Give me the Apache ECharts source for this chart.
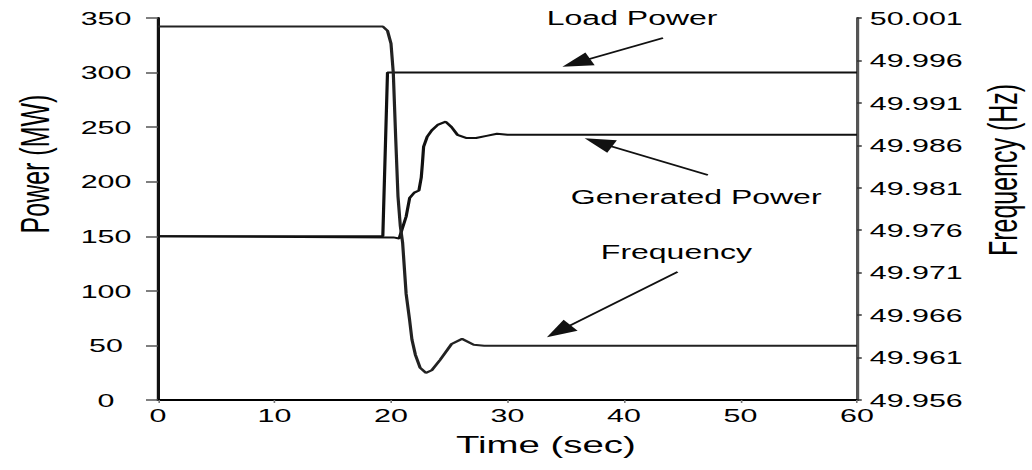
<!DOCTYPE html>
<html>
<head>
<meta charset="utf-8">
<script src="https://cdn.jsdelivr.net/npm/echarts@6/dist/echarts.min.js"></script>
<style>
  html, body { margin: 0; padding: 0; background: #fff; }
  #wrap { width: 1032px; height: 470px; overflow: hidden; position: relative; }
  /* the source picture is stretched horizontally; draw at 645px and stretch by 1.6 */
  #main { width: 645px; height: 470px; transform: scaleX(1.6); transform-origin: 0 0; }
</style>
</head>
<body>
<div id="wrap"><div id="main"></div></div>
<script>
// ---- data (time in s, power in MW, frequency in Hz) ----
const timeRange = [0, 60];
const timeStep = 10;
const powerRange = [0, 350];
const powerStep = 50;
const freqRange = [49.956, 50.001];
const freqStep = 0.005;

const loadPower = [[0, 150], [19.3, 150], [19.7, 300], [60, 300]];

const generatedPower = [
  [0, 150], [20.2, 149], [20.7, 148], [21.3, 168], [21.6, 185], [22.0, 190],
  [22.4, 192], [22.6, 204], [22.7, 217], [22.8, 232], [23.1, 241], [23.5, 247],
  [24.0, 252], [24.7, 255], [25.2, 250], [25.7, 243], [26.5, 240], [27.3, 240],
  [28.2, 242], [29.1, 244], [30, 243], [60, 243]
];

const frequency = [
  [0, 50.000], [19.3, 50.000], [19.7, 49.9995], [20.0, 49.998], [20.2, 49.9945],
  [20.4, 49.987], [20.6, 49.980], [20.8, 49.9765], [21.0, 49.9745], [21.3, 49.9685],
  [21.6, 49.9654], [21.8, 49.9631], [22.1, 49.9613], [22.5, 49.9598], [23.0, 49.9592],
  [23.5, 49.9595], [24.2, 49.9607], [25.2, 49.9626], [26.1, 49.9632], [27.1, 49.9625],
  [28.0, 49.9624], [60, 49.9624]
];

const seriesNames = ['Load Power', 'Generated Power', 'Frequency'];

// ---- annotations (anchored in data space) ----
const annoText = [
  { name: 'Load Power', coord: [40.7, 350] },
  { name: 'Generated Power', coord: [46.2, 186] },
  { name: 'Frequency', coord: [44.5, 135.6] }
];
const loadArrow = [[43.35, 331.7], [35.9, 309.0]];
const genArrow = [[47.2, 206.1], [37.8, 236.0]];
const freqArrow = [[44.6, 49.9711], [34.4, 49.9641]];

const FONT = '"Liberation Sans", Arial, sans-serif';
const chart = echarts.init(document.getElementById('main'), null, { renderer: 'svg' });

const arrowStyle = {
  silent: true,
  symbol: ['none', 'triangle'],
  symbolSize: [14, 19],
  lineStyle: { color: '#111', width: 1.6, type: 'solid' },
  itemStyle: { color: '#000' },
  label: { show: false },
  emphasis: { disabled: true }
};

const option = {
  animation: false,
  textStyle: { fontFamily: FONT, color: '#000' },
  grid: { left: 98.75, right: 109.4, top: 18, bottom: 70, containLabel: false, outerBoundsMode: 'none' },
  xAxis: {
    type: 'value', min: timeRange[0], max: timeRange[1], interval: timeStep,
    name: 'Time (sec)', nameLocation: 'middle', nameGap: 33,
    nameTextStyle: { fontSize: 24, color: '#000', fontFamily: FONT, padding: [0, 0, 0, 48] },
    axisLine: { onZero: false, lineStyle: { color: '#000', width: 2 } },
    axisTick: { show: true, length: 3, lineStyle: { color: '#777', width: 1 } },
    axisLabel: { fontSize: 19, color: '#000', margin: 6, fontFamily: FONT },
    splitLine: { show: false }
  },
  yAxis: [
    {
      type: 'value', position: 'left', min: powerRange[0], max: powerRange[1], interval: powerStep,
      name: 'Power (MW)', nameLocation: 'middle', nameRotate: 90, nameGap: 64,
      nameTextStyle: { fontSize: 25, color: '#000', fontFamily: FONT, padding: [0, 0, 0, 90] },
      axisLine: { show: true, onZero: false, lineStyle: { color: '#111', width: 2 } },
      axisTick: { show: true, length: 7.5, lineStyle: { color: '#555', width: 1.5 } },
      axisLabel: { fontSize: 19, color: '#000', margin: 32.5, align: 'center', fontFamily: FONT },
      splitLine: { show: false }
    },
    {
      type: 'value', position: 'right', min: freqRange[0], max: freqRange[1], interval: freqStep,
      name: 'Frequency (Hz)', nameLocation: 'middle', nameRotate: 90, nameGap: 79,
      nameTextStyle: { fontSize: 25, color: '#000', fontFamily: FONT, padding: [0, 0, 0, 78] },
      axisLine: { show: true, onZero: false, lineStyle: { color: '#555', width: 2 } },
      axisTick: { show: true, length: 3, lineStyle: { color: '#333', width: 1.5 } },
      axisLabel: { fontSize: 19, color: '#000', margin: 8, fontFamily: FONT,
        formatter: v => v.toFixed(3) },
      splitLine: { show: false }
    }
  ],
  series: [
    {
      name: seriesNames[0], type: 'line', yAxisIndex: 0, data: loadPower,
      showSymbol: false, lineStyle: { color: '#111', width: 2 }, z: 3,
      markLine: Object.assign({}, arrowStyle, { data: [[{ coord: loadArrow[0] }, { coord: loadArrow[1] }]] }),
      markPoint: {
        silent: true, symbol: 'circle', symbolSize: 1, itemStyle: { color: 'rgba(0,0,0,0)' },
        label: { show: true, position: 'inside', formatter: '{b}', fontSize: 20, color: '#000', fontFamily: FONT },
        data: annoText
      }
    },
    {
      name: seriesNames[1], type: 'line', yAxisIndex: 0, data: generatedPower,
      showSymbol: false, lineStyle: { color: '#111', width: 2 }, z: 3,
      markLine: Object.assign({}, arrowStyle, { data: [[{ coord: genArrow[0] }, { coord: genArrow[1] }]] })
    },
    {
      name: seriesNames[2], type: 'line', yAxisIndex: 1, data: frequency,
      showSymbol: false, lineStyle: { color: '#222', width: 2 }, z: 3,
      markLine: Object.assign({}, arrowStyle, { data: [[{ coord: freqArrow[0] }, { coord: freqArrow[1] }]] })
    }
  ]
};
chart.setOption(option);
</script>
</body>
</html>
